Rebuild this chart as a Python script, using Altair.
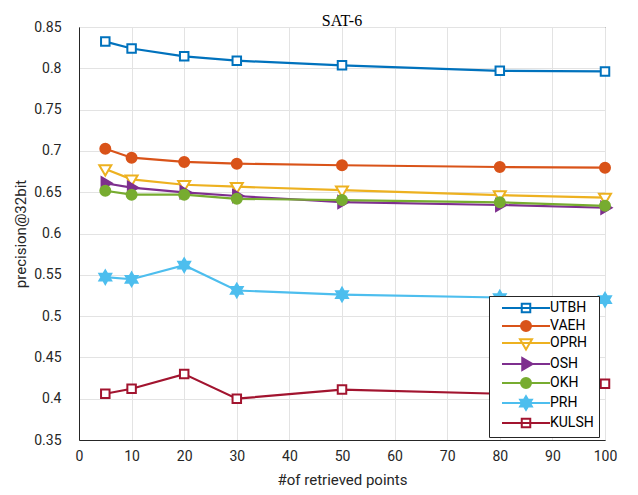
import altair as alt
import pandas as pd

# ---- data ----
names = ["UTBH", "VAEH", "OPRH", "OSH", "OKH", "PRH", "KULSH"]
x_points = [5, 10, 20, 30, 50, 80, 100]
utbh = [0.8323, 0.824, 0.8145, 0.8092, 0.8036, 0.797, 0.7962]
vaeh = [0.7027, 0.6918, 0.6866, 0.6845, 0.6826, 0.6805, 0.6797]
oprh = [0.678, 0.6656, 0.659, 0.6567, 0.6525, 0.6465, 0.6435]
osh = [0.6608, 0.6555, 0.6499, 0.6454, 0.638, 0.6345, 0.6312]
okh = [0.6518, 0.647, 0.647, 0.642, 0.6405, 0.6377, 0.6335]
prh = [0.5471, 0.5446, 0.5616, 0.531, 0.5261, 0.5225, 0.5198]
kulsh = [0.406, 0.412, 0.4298, 0.4, 0.411, 0.406, 0.4182]
series_values = [utbh, vaeh, oprh, osh, okh, prh, kulsh]
x_ticks = [0, 10, 20, 30, 40, 50, 60, 70, 80, 90, 100]
y_ticks = [0.35, 0.4, 0.45, 0.5, 0.55, 0.6, 0.65, 0.7, 0.75, 0.8, 0.85]

rows = []
for name, vals in zip(names, series_values):
    for xv, yv in zip(x_points, vals):
        rows.append({"series": name, "k": xv, "precision": yv})
df = pd.DataFrame(rows)

# ---- style ----
colors = ["#0072BD", "#D95319", "#EDB120", "#7E2F8E", "#77AC30", "#4DBEEE", "#A2142F"]
fills = ["white", "#D95319", "white", "#7E2F8E", "#77AC30", "#4DBEEE", "white"]
SQ = "M-0.85,-0.85H0.85V0.85H-0.85Z"
CI = "M-1,0A1,1 0 1,1 1,0A1,1 0 1,1 -1,0Z"
TD = "M-1.2,-0.75H1.2L0,1.3Z"
TR = "M-0.75,-1.2V1.2L1.3,0Z"
HX = ("M0,-1.35L0.39,-0.675L1.17,-0.675L0.78,0L1.17,0.675L0.39,0.675L0,1.35"
      "L-0.39,0.675L-1.17,0.675L-0.78,0L-1.17,-0.675L-0.39,-0.675Z")
marker_paths = [SQ, CI, TD, TR, CI, HX, SQ]
legend_paths = ["M-4.8,0H4.8" + p for p in marker_paths]

FONT = "Roboto, Liberation Sans, sans-serif"

legend = alt.Legend(
    title=None, orient="none", legendX=410, legendY=269,
    labelFont=FONT, labelFontSize=14, labelColor="#000000",
    symbolSize=100, symbolStrokeWidth=2, symbolOffset=25, labelOffset=17,
    padding=5, rowPadding=0, strokeColor="#262626", fillColor="white",
    cornerRadius=0,
)

stroke_scale = alt.Scale(domain=names, range=colors)
fill_scale = alt.Scale(domain=names, range=fills)

x_enc = alt.X("k:Q", scale=alt.Scale(domain=[0, 100], nice=False),
              axis=alt.Axis(values=x_ticks, title="#of retrieved points", format="d",
                            labelPadding=9, titlePadding=9, labelFlush=False))
y_enc = alt.Y("precision:Q", scale=alt.Scale(domain=[0.35, 0.85], nice=False, zero=False),
              axis=alt.Axis(values=y_ticks, title="precision@32bit", format="~g",
                            labelPadding=18, titlePadding=5, labelFlush=False))

base = alt.Chart(df)

lines = base.mark_line(strokeWidth=2.2).encode(
    x=x_enc, y=y_enc,
    stroke=alt.Stroke("series:N", scale=stroke_scale, legend=legend),
    order="k:Q",
)

layers = [lines]
for name, path in zip(names, marker_paths):
    layers.append(
        base.transform_filter(alt.datum.series == name)
        .mark_point(shape=path, size=100, strokeWidth=2, opacity=1)
        .encode(
            x=x_enc, y=y_enc,
            stroke=alt.Stroke("series:N", scale=stroke_scale, legend=legend),
            fill=alt.Fill("series:N", scale=fill_scale, legend=legend),
        )
    )

legend_layer = base.transform_filter("false").mark_point(size=100, strokeWidth=2, opacity=1).encode(
    x=x_enc, y=y_enc,
    stroke=alt.Stroke("series:N", scale=stroke_scale, legend=legend),
    fill=alt.Fill("series:N", scale=fill_scale, legend=legend),
    shape=alt.Shape("series:N", scale=alt.Scale(domain=names, range=legend_paths), legend=legend),
)
layers.append(legend_layer)

chart = alt.layer(*layers).properties(
    width=526, height=413,
    title=alt.TitleParams("SAT-6", font="Liberation Serif", fontSize=16, fontWeight="normal",
                          color="#000000", offset=-9, frame="group"),
).configure_view(stroke="#262626", strokeWidth=1).configure_axis(
    labelFont=FONT, labelFontSize=14, labelColor="#262626",
    titleFont=FONT, titleFontSize=15, titleColor="#262626", titleFontWeight="normal",
    gridColor="#e3e3e3", gridWidth=1, domainColor="#262626", domainWidth=1,
    ticks=False,
)

chart.save("out.html", embed_options={"renderer": "svg", "actions": False})
